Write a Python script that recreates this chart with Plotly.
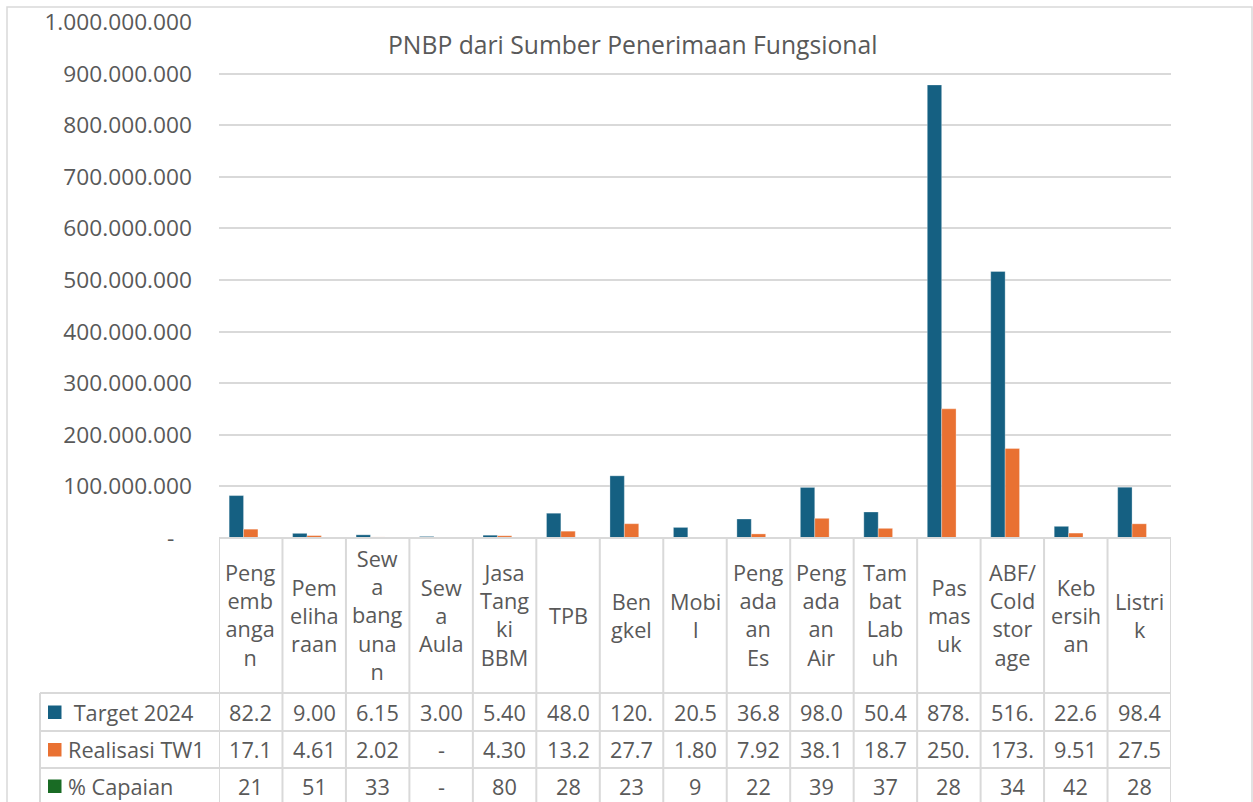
import plotly.graph_objects as go

categories = ["Pengembangan", "Pemeliharaan", "Sewa bangunan", "Sewa Aula", "Jasa Tangki BBM",
              "TPB", "Bengkel", "Mobil", "Pengadaan Es", "Pengadaan Air", "Tambat Labuh",
              "Pas masuk", "ABF/ Cold storage", "Kebersihan", "Listrik"]
category_lines = ["Peng<br>emb<br>anga<br>n", "Pem<br>eliha<br>raan", "Sew<br>a<br>bang<br>una<br>n",
                  "Sew<br>a<br>Aula", "Jasa<br>Tang<br>ki<br>BBM", "TPB", "Ben<br>gkel", "Mobi<br>l",
                  "Peng<br>ada<br>an<br>Es", "Peng<br>ada<br>an<br>Air", "Tam<br>bat<br>Lab<br>uh",
                  "Pas<br>mas<br>uk", "ABF/<br>Cold<br>stor<br>age", "Keb<br>ersih<br>an", "Listri<br>k"]
target_2024 = [82_200_000, 9_000_000, 6_150_000, 3_000_000, 5_400_000, 48_000_000, 120_500_000,
               20_500_000, 36_800_000, 98_000_000, 50_400_000, 878_000_000, 516_500_000,
               22_600_000, 98_400_000]
realisasi_tw1 = [17_100_000, 4_610_000, 2_020_000, 0, 4_300_000, 13_200_000, 27_700_000,
                 1_800_000, 7_920_000, 38_100_000, 18_700_000, 250_300_000, 173_400_000,
                 9_510_000, 27_500_000]
capaian = [21, 51, 33, 0, 80, 28, 23, 9, 22, 39, 37, 28, 34, 42, 28]
series_names = [" Target 2024", "Realisasi TW1", "% Capaian"]
y_ticks = [0, 100_000_000, 200_000_000, 300_000_000, 400_000_000, 500_000_000,
           600_000_000, 700_000_000, 800_000_000, 900_000_000, 1_000_000_000]
title_text = "PNBP dari Sumber Penerimaan Fungsional"

W, H = 1253, 802
FONT = "Open Sans"
TXT = "#595959"
GRID = "#D9D9D9"
colors = ["#156082", "#E97132", "#196B24"]
BODY = 21.7


def px(x):
    return x / W


def py(y):
    return 1 - y / H


def fmt_dot(v):
    return "{:,}".format(v).replace(",", ".")


def cell_text(v, maxlen=4):
    if v == 0:
        return "-"
    return fmt_dot(v)[:maxlen]


def tick_text(v):
    if v == 0:
        return "-\u00a0\u00a0\u00a0"
    return fmt_dot(v)


xs = list(range(len(categories)))
fig = go.Figure()
for name, vals, col in zip(series_names, [target_2024, realisasi_tw1, capaian], colors):
    fig.add_trace(go.Bar(x=xs, y=vals, name=name,
                         marker=dict(color=col, line=dict(width=0.6, color="rgba(255,255,255,0.5)"))))

PL, PR, PT, PB = 219, 1171, 22, 538
fig.update_layout(
    template="none",
    width=W, height=H,
    margin=dict(l=0, r=0, t=0, b=0, pad=0, autoexpand=False),
    paper_bgcolor="white", plot_bgcolor="white",
    showlegend=False,
    barmode="group", bargap=0.32, bargroupgap=0,
    font=dict(family=FONT, color=TXT, size=BODY),
    xaxis=dict(domain=[px(PL), px(PR)], range=[-0.5, len(categories) - 0.5], automargin=False,
               showticklabels=False, showgrid=False, zeroline=False, ticks="", showline=False),
    yaxis=dict(domain=[py(PB), py(PT)], range=[0, 1_000_000_000], automargin=False,
               tickvals=y_ticks, ticktext=[tick_text(v) for v in y_ticks], ticks="",
               showgrid=True, gridcolor=GRID, gridwidth=2, zeroline=False, showline=False,
               ticklabelstandoff=26, tickfont=dict(size=22.7, color=TXT, family=FONT)),
)

shapes = []
line = dict(color=GRID, width=2)
# outer frame
shapes.append(dict(type="rect", xref="paper", yref="paper", x0=px(7), x1=px(1252),
                   y0=py(815), y1=py(7), line=dict(color=GRID, width=1.5), layer="below"))
# table horizontal lines
for yy, x0 in [(PB, PL), (693, 40), (731, 40), (768, 40)]:
    shapes.append(dict(type="line", xref="paper", yref="paper", x0=px(x0), x1=px(PR),
                       y0=py(yy), y1=py(yy), line=line))
# vertical lines at category boundaries
for i in range(len(categories) + 1):
    shapes.append(dict(type="line", xref="x", yref="paper", x0=i - 0.5, x1=i - 0.5,
                       y0=py(PB), y1=py(815), line=line))
shapes.append(dict(type="line", xref="paper", yref="paper", x0=px(40), x1=px(40),
                   y0=py(693), y1=py(815), line=line))
# legend keys
row_centers = [712, 749.5, 786]
for yc, col in zip(row_centers, colors):
    shapes.append(dict(type="rect", xref="paper", yref="paper", x0=px(48), x1=px(61.5),
                       y0=py(yc + 7), y1=py(yc - 6.5), fillcolor=col, line=dict(width=0)))
fig.update_layout(shapes=shapes)

ann = []
ann.append(dict(text=title_text, xref="paper", yref="paper", x=px(632), y=py(44),
                showarrow=False, font=dict(size=24.7, color=TXT, family=FONT),
                xanchor="center", yanchor="middle"))
for i, lab in enumerate(category_lines):
    ann.append(dict(text=lab, xref="x", yref="paper", x=i, y=py(615), showarrow=False,
                    font=dict(size=BODY, color=TXT, family=FONT), xanchor="center",
                    yanchor="middle", align="center"))
rows = [[cell_text(v) for v in target_2024],
        [cell_text(v) for v in realisasi_tw1],
        [cell_text(v) for v in capaian]]
for r, (name, yc) in enumerate(zip(series_names, row_centers)):
    ann.append(dict(text=name, xref="paper", yref="paper", x=px(66), y=py(yc), showarrow=False,
                    font=dict(size=BODY, color=TXT, family=FONT), xanchor="left", yanchor="middle"))
    for i, t in enumerate(rows[r]):
        ann.append(dict(text=t, xref="x", yref="paper", x=i, y=py(yc), showarrow=False,
                        font=dict(size=BODY, color=TXT, family=FONT), xanchor="center",
                        yanchor="middle"))
fig.update_layout(annotations=ann)

fig.write_html("out.html", config={"displayModeBar": False},
               post_script="document.body.style.margin='0';")
